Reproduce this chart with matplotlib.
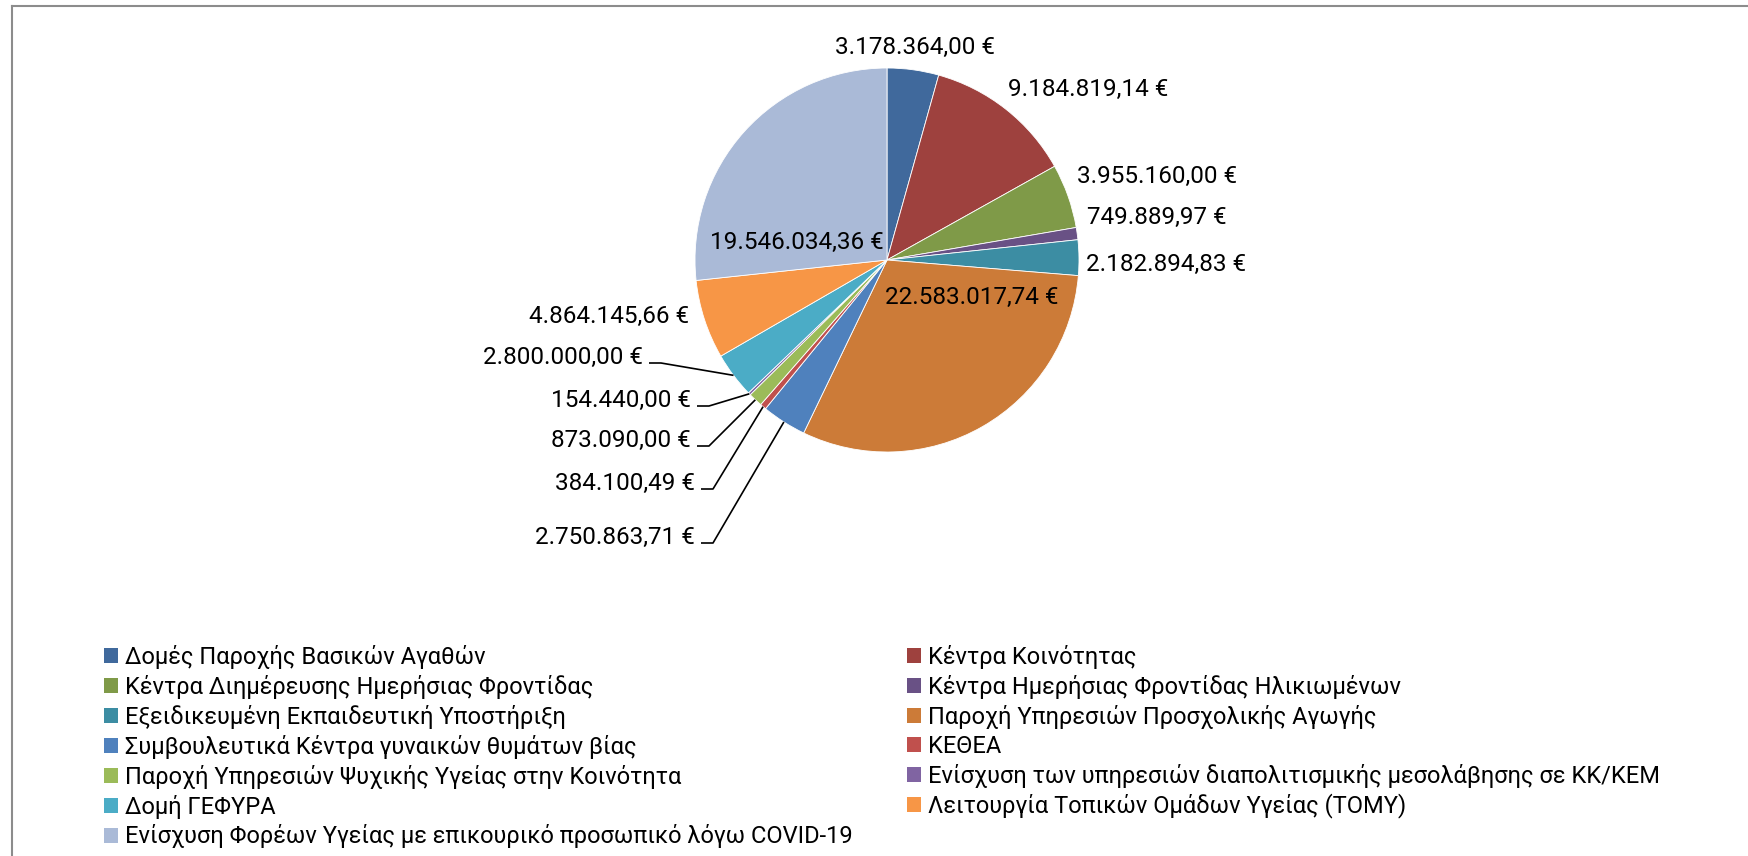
import numpy as np
import matplotlib
matplotlib.use("Agg")
import matplotlib.pyplot as plt
from matplotlib.patches import Patch
from matplotlib.lines import Line2D

plt.rcParams['font.family'] = ['Roboto', 'DejaVu Sans']

W, H = 1749, 856

categories = [
    "Δομές Παροχής Βασικών Αγαθών",
    "Κέντρα Κοινότητας",
    "Κέντρα Διημέρευσης Ημερήσιας Φροντίδας",
    "Κέντρα Ημερήσιας Φροντίδας Ηλικιωμένων",
    "Εξειδικευμένη Εκπαιδευτική Υποστήριξη",
    "Παροχή Υπηρεσιών Προσχολικής Αγωγής",
    "Συμβουλευτικά Κέντρα γυναικών θυμάτων βίας",
    "ΚΕΘΕΑ",
    "Παροχή Υπηρεσιών Ψυχικής Υγείας στην Κοινότητα",
    "Ενίσχυση των υπηρεσιών διαπολιτισμικής μεσολάβησης σε ΚΚ/ΚΕΜ",
    "Δομή ΓΕΦΥΡΑ",
    "Λειτουργία Τοπικών Ομάδων Υγείας (ΤΟΜΥ)",
    "Ενίσχυση Φορέων Υγείας με επικουρικό προσωπικό λόγω COVID-19",
]
values = [3178364.00, 9184819.14, 3955160.00, 749889.97, 2182894.83,
          22583017.74, 2750863.71, 384100.49, 873090.00, 154440.00,
          2800000.00, 4864145.66, 19546034.36]
colors = ["#40699C", "#9E413E", "#7F9A48", "#695185", "#3C8DA3",
          "#CC7B38", "#4F81BD", "#C0504D", "#9BBB59", "#8064A2",
          "#4BACC6", "#F79646", "#AABAD7"]

# label anchor (px from top-left), alignment, leader line or not
label_x = [915, 1088, 1157, 1157, 1166, 972, 695, 695, 691, 691, 643, 609, 797]
label_y = [47, 89, 176, 217, 264, 297, 537, 483, 440, 400, 357, 316, 242]
leader = [False, False, False, False, False, False, True, True, True, True, True, False, False]


def euro(v):
    s = f"{v:,.2f}".replace(",", "X").replace(".", ",").replace("X", ".")
    return s + " €"


fig = plt.figure(figsize=(W / 100, H / 100), dpi=100)
ax = fig.add_axes([0, 0, 1, 1])

cx, cy, r = 887, 260, 192
wedges, _ = ax.pie(values, colors=colors, startangle=90, counterclock=False,
                   center=(cx, H - cy), radius=r,
                   wedgeprops=dict(edgecolor="white", linewidth=0.6))
ax.set_xlim(0, W)
ax.set_ylim(0, H)
ax.set_aspect("auto")
ax.axis("off")

fs = 17.5
for i, w in enumerate(wedges):
    tx, ty = label_x[i], H - label_y[i]
    if leader[i]:
        ax.text(tx, ty, euro(values[i]), ha="right", va="center", fontsize=fs)
        ang = np.deg2rad((w.theta1 + w.theta2) / 2)
        ex, ey = cx + r * np.cos(ang), H - cy + r * np.sin(ang)
        ly = ty - 6
        ax.plot([tx + 6, tx + 18, ex], [ly, ly, ey], color="black", lw=1.2,
                solid_capstyle="butt")
    else:
        ax.text(tx, ty, euro(values[i]), ha="center", va="center", fontsize=fs)

# legend, filled row by row in two columns
handles = [Patch(facecolor=c, edgecolor="none") for c in colors]
left = list(range(0, 13, 2))
right = list(range(1, 13, 2))
leg_kw = dict(frameon=False, fontsize=17, handlelength=0.6, handleheight=0.6,
              handletextpad=0.3, labelspacing=0.25, borderpad=0, borderaxespad=0)
leg1 = fig.legend([handles[i] for i in left], [categories[i] for i in left],
                  loc="upper left", bbox_to_anchor=(104 / W, 1 - 645 / H), **leg_kw)
leg2 = fig.legend([handles[i] for i in right], [categories[i] for i in right],
                  loc="upper left", bbox_to_anchor=(907 / W, 1 - 645 / H), **leg_kw)

# chart area border (left and top edges visible)
fig.add_artist(Line2D([12 / W, 12 / W], [0, 1 - 6 / H], transform=fig.transFigure,
                      color="#8C8C8C", lw=1.5))
fig.add_artist(Line2D([12 / W, 1], [1 - 6 / H, 1 - 6 / H], transform=fig.transFigure,
                      color="#8C8C8C", lw=1.5))

fig.savefig("out.png", dpi=100, facecolor="white")
